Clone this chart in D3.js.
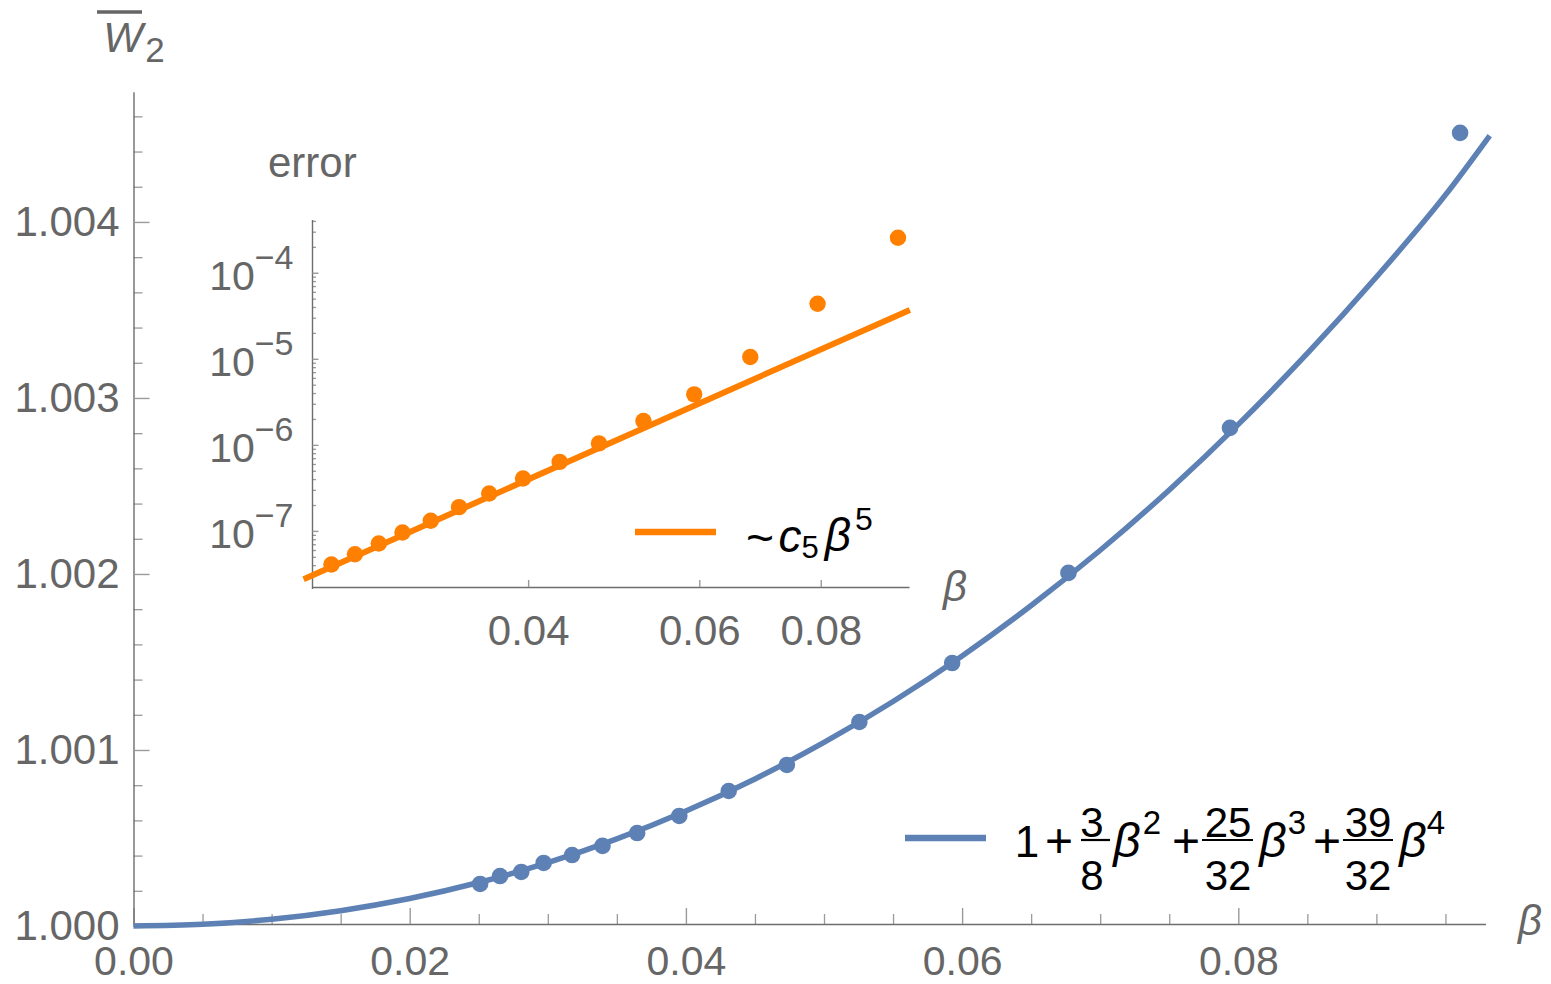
<!DOCTYPE html>
<html><head><meta charset="utf-8">
<script src="https://cdn.jsdelivr.net/npm/d3@7"></script>
<style>body{margin:0;background:#fff}</style>
</head><body><svg id="c" width="1551" height="984"></svg>
<script>
// ---------- data ----------
const curveBeta = [0, 0.005, 0.01, 0.015, 0.02, 0.025, 0.03, 0.035, 0.04, 0.045, 0.05, 0.055, 0.06, 0.065, 0.07, 0.075, 0.08, 0.085, 0.09, 0.095, 0.0982];
const curveW = [1.0000000, 1.0000095, 1.0000383, 1.0000871, 1.0001564, 1.0002471, 1.0003596, 1.0004947, 1.0006531, 1.0008356, 1.0010428, 1.0012755, 1.0015345, 1.0018207, 1.0021347, 1.0024775, 1.0028499, 1.0032528, 1.0036870, 1.0041535, 1.0044900];
const pointBeta = [0.0251, 0.02654, 0.02808, 0.0297, 0.03176, 0.03396, 0.03647, 0.03952, 0.0431, 0.04731, 0.05256, 0.05928, 0.0677, 0.0794, 0.09606];
const pointW = [1.000239, 1.000284, 1.000307, 1.000358, 1.000403, 1.000455, 1.000528, 1.000625, 1.000767, 1.000915, 1.001159, 1.001494, 1.002006, 1.002830, 1.004506];
const pointErr = [4.07e-8, 5.36e-8, 7.14e-8, 9.58e-8, 1.31e-7, 1.89e-7, 2.72e-7, 4.07e-7, 6.34e-7, 1.04e-6, 1.89e-6, 3.86e-6, 1.05e-5, 4.36e-5, 2.55e-4];
const fitBeta = [0.0235, 0.0988];
const fitErr = [2.75e-8, 3.7e-5];

const xMajor = [0, 0.02, 0.04, 0.06, 0.08];
const xMajorLabels = ["0.00", "0.02", "0.04", "0.06", "0.08"];
const xMinor = [0.005, 0.01, 0.015, 0.025, 0.03, 0.035, 0.045, 0.05, 0.055, 0.065, 0.07, 0.075, 0.085, 0.09, 0.095];
const yMajor = [1.000, 1.001, 1.002, 1.003, 1.004];
const yMajorLabels = ["1.000", "1.001", "1.002", "1.003", "1.004"];
const yMinor = [1.0002, 1.0004, 1.0006, 1.0008, 1.0012, 1.0014, 1.0016, 1.0018, 1.0022, 1.0024, 1.0026, 1.0028, 1.0032, 1.0034, 1.0036, 1.0038, 1.0042, 1.0044, 1.0046];
const insetXTicks = [0.04, 0.06, 0.08];
const insetXLabels = ["0.04", "0.06", "0.08"];
const insetYExponents = [-7, -6, -5, -4];
const insetYMinorMantissas = [2, 3, 4, 5, 6, 7, 8, 9];
const insetYMinorExponents = [-8, -7, -6, -5, -4];

// ---------- setup ----------
const FONT = "'Liberation Sans', Arial, sans-serif";
const AXIS = "#6e6e6e", TICK = "#9a9a9a", LABEL = "#666666";
const BLUE = "#5E81B5", ORANGE = "#FF8000";

const svg = d3.select("#c");
svg.append("rect").attr("width", 1551).attr("height", 984).attr("fill", "#fff");

const x = d3.scaleLinear().domain([0, 0.0979]).range([133.5, 1485.5]);
const y = d3.scaleLinear().domain([1, 1.00474]).range([926, 91.7]);
const xi = d3.scaleLog().domain([0.024, 0.0986]).range([312.5, 909]);
const yi = d3.scaleLog().domain([2.23e-8, 4.1e-4]).range([587, 220]);

function styleAxis(g, fs) {
  g.attr("font-family", FONT).attr("font-size", fs);
  g.select(".domain").attr("stroke", AXIS).attr("stroke-width", 1.4);
  g.selectAll(".tick line").attr("stroke", TICK).attr("stroke-width", 1.4);
  g.selectAll(".tick text").attr("fill", LABEL);
}
function minorAxis(g) {
  g.select(".domain").remove();
  g.selectAll(".tick line").attr("stroke", TICK).attr("stroke-width", 1.3);
  g.selectAll(".tick text").remove();
}

// ---------- main axes ----------
svg.append("g").attr("transform", "translate(0,924)")
  .call(d3.axisBottom(x).tickValues(xMinor).tickFormat("").tickSize(-10))
  .call(minorAxis);
svg.append("g").attr("transform", "translate(0,924)")
  .call(d3.axisBottom(x).tickValues(xMajor).tickFormat((d, i) => xMajorLabels[i])
    .tickSizeInner(-16).tickSizeOuter(0).tickPadding(22))
  .call(g => styleAxis(g, 41));

svg.append("g").attr("transform", "translate(133.5,0)")
  .call(d3.axisLeft(y).tickValues(yMinor).tickFormat("").tickSize(-9))
  .call(minorAxis);
svg.append("g").attr("transform", "translate(133.5,0)")
  .call(d3.axisLeft(y).tickValues(yMajor).tickFormat((d, i) => yMajorLabels[i])
    .tickSizeInner(-16).tickSizeOuter(0).tickPadding(14))
  .call(g => styleAxis(g, 42));

// ---------- main curve + points ----------
const curveData = curveBeta.map((b, i) => [b, curveW[i]]);
svg.append("path").datum(curveData)
  .attr("fill", "none").attr("stroke", BLUE).attr("stroke-width", 5.5)
  .attr("d", d3.line().x(d => x(d[0])).y(d => y(d[1])).curve(d3.curveMonotoneX));
svg.append("g").selectAll("circle").data(pointBeta).join("circle")
  .attr("cx", d => x(d)).attr("cy", (d, i) => y(pointW[i])).attr("r", 8.3).attr("fill", BLUE);

// ---------- inset axes ----------
svg.append("g").attr("transform", "translate(0,587)")
  .call(d3.axisBottom(xi).tickValues(insetXTicks).tickFormat((d, i) => insetXLabels[i])
    .tickSizeInner(-7).tickSizeOuter(0).tickPadding(28))
  .call(g => styleAxis(g, 42));

const insetMinor = [];
insetYMinorExponents.forEach(e => insetYMinorMantissas.forEach(m => {
  const v = m * Math.pow(10, e);
  if (v >= yi.domain()[0] && v <= yi.domain()[1]) insetMinor.push(v);
}));
svg.append("g").attr("transform", "translate(312.5,0)")
  .call(d3.axisLeft(yi).tickValues(insetMinor).tickFormat("").tickSize(-3.5))
  .call(minorAxis);
const gyi = svg.append("g").attr("transform", "translate(312.5,0)")
  .call(d3.axisLeft(yi).tickValues(insetYExponents.map(e => Math.pow(10, e))).tickFormat("")
    .tickSizeInner(-6).tickSizeOuter(0))
  .call(g => styleAxis(g, 42));
gyi.select(".domain").attr("d", `M0,${yi.range()[1]}V${yi.range()[0] + 2}`);

const yl = svg.append("g").attr("font-family", FONT).attr("fill", LABEL);
insetYExponents.forEach(e => {
  const t = yl.append("text").attr("x", 312.5 - 19).attr("y", yi(Math.pow(10, e)) + 17)
    .attr("text-anchor", "end").attr("font-size", 41);
  t.append("tspan").text("10");
  t.append("tspan").attr("dy", -21).attr("font-size", 34).text("\u2212" + Math.abs(e));
});

// ---------- inset data ----------
const fitData = fitBeta.map((b, i) => [b, fitErr[i]]);
svg.append("path").datum(fitData)
  .attr("fill", "none").attr("stroke", ORANGE).attr("stroke-width", 6)
  .attr("d", d3.line().x(d => xi(d[0])).y(d => yi(d[1])));
svg.append("g").selectAll("circle").data(pointBeta).join("circle")
  .attr("cx", d => xi(d)).attr("cy", (d, i) => yi(pointErr[i])).attr("r", 8.2).attr("fill", ORANGE);

// ---------- text helpers ----------
function put(txt, cx, base, size, opts = {}) {
  return svg.append("text").attr("x", cx).attr("y", base)
    .attr("text-anchor", opts.anchor || "middle")
    .attr("font-family", FONT).attr("font-size", size)
    .attr("font-style", opts.italic ? "italic" : "normal")
    .attr("fill", opts.fill || "#000").text(txt);
}

// titles / axis labels
put("W", 123, 52, 42, { italic: true, fill: LABEL });
svg.append("line").attr("x1", 97).attr("x2", 142).attr("y1", 12).attr("y2", 12)
  .attr("stroke", LABEL).attr("stroke-width", 3.5);
put("2", 155, 62, 35, { fill: LABEL });
put("error", 268, 177, 42, { anchor: "start", fill: LABEL });
put("\u03B2", 1518, 935, 42, { anchor: "start", italic: true, fill: LABEL });
put("\u03B2", 943, 601, 42, { anchor: "start", italic: true, fill: LABEL });

// inset legend
svg.append("line").attr("x1", 635).attr("x2", 716).attr("y1", 532).attr("y2", 532)
  .attr("stroke", ORANGE).attr("stroke-width", 6.5);
put("~", 760, 554, 48);
put("c", 790, 552, 46, { italic: true });
put("5", 810, 558, 31);
put("\u03B2", 838, 551, 46, { italic: true });
put("5", 864, 530, 32);

// main legend
svg.append("line").attr("x1", 905).attr("x2", 986).attr("y1", 838).attr("y2", 838)
  .attr("stroke", BLUE).attr("stroke-width", 6.5);
function frac(num, den, cx, x1, x2) {
  put(num, cx, 836.5, 42);
  put(den, cx, 890, 42);
  svg.append("line").attr("x1", x1).attr("x2", x2).attr("y1", 840).attr("y2", 840)
    .attr("stroke", "#000").attr("stroke-width", 2.2);
}
put("1", 1027, 857, 44);
put("+", 1059, 857, 48);
frac("3", "8", 1092, 1081, 1110);
put("\u03B2", 1127, 857, 48, { italic: true });
put("2", 1152, 834, 33);
put("+", 1186, 857, 48);
frac("25", "32", 1228, 1202, 1253);
put("\u03B2", 1273, 857, 48, { italic: true });
put("3", 1297, 834, 33);
put("+", 1327, 857, 48);
frac("39", "32", 1368, 1343, 1393);
put("\u03B2", 1413, 857, 48, { italic: true });
put("4", 1436, 834, 33);
</script></body></html>
